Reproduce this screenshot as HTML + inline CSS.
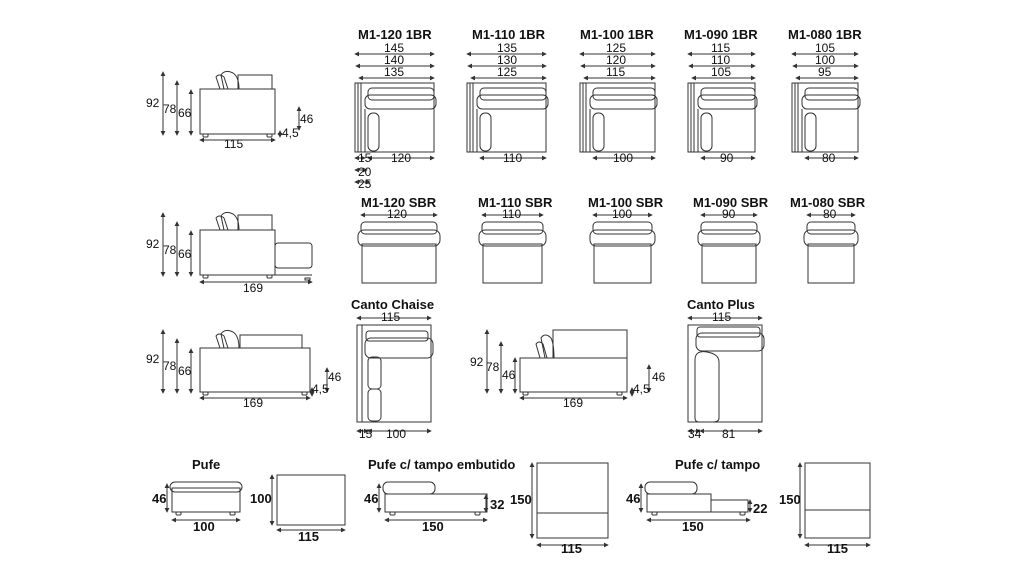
<!DOCTYPE html>
<html><head><meta charset="utf-8"><style>
html,body{margin:0;padding:0;background:#fff;width:1024px;height:576px;overflow:hidden}
svg{display:block}
text{font-family:"Liberation Sans",sans-serif;fill:#111}
.t{font-weight:bold;font-size:13px}
.d{font-size:12px}
.b{font-weight:bold;font-size:13px}
</style></head><body>
<svg id="s" width="1024" height="576" viewBox="0 0 1024 576" fill="none" stroke="#333" stroke-width="1">
<defs><marker id="a" viewBox="0 0 6 6" refX="5" refY="3" markerWidth="5" markerHeight="5" orient="auto-start-reverse"><path d="M0,0L6,3L0,6z" fill="#333" stroke="none"/></marker></defs>
<g id="g"></g>
<g stroke="none">
<!-- row1 side -->
<text class="d" x="146" y="107">92</text><text class="d" x="163" y="113">78</text><text class="d" x="178" y="117">66</text>
<text class="d" x="224" y="148">115</text><text class="d" x="300" y="123">46</text><text class="d" x="282" y="137">4,5</text>
<!-- 1BR titles -->
<text class="t" x="358" y="39">M1-120 1BR</text><text class="t" x="472" y="39">M1-110 1BR</text><text class="t" x="580" y="39">M1-100 1BR</text><text class="t" x="684" y="39">M1-090 1BR</text><text class="t" x="788" y="39">M1-080 1BR</text>
<text class="d" x="384" y="52">145</text><text class="d" x="384" y="64">140</text><text class="d" x="384" y="76">135</text>
<text class="d" x="497" y="52">135</text><text class="d" x="497" y="64">130</text><text class="d" x="497" y="76">125</text>
<text class="d" x="606" y="52">125</text><text class="d" x="606" y="64">120</text><text class="d" x="606" y="76">115</text>
<text class="d" x="711" y="52">115</text><text class="d" x="711" y="64">110</text><text class="d" x="711" y="76">105</text>
<text class="d" x="815" y="52">105</text><text class="d" x="815" y="64">100</text><text class="d" x="818" y="76">95</text>
<text class="d" x="358" y="162">15</text><text class="d" x="391" y="162">120</text><text class="d" x="358" y="176">20</text><text class="d" x="358" y="188">25</text>
<text class="d" x="503" y="162">110</text><text class="d" x="613" y="162">100</text><text class="d" x="720" y="162">90</text><text class="d" x="822" y="162">80</text>
<!-- row2 -->
<text class="d" x="146" y="248">92</text><text class="d" x="163" y="254">78</text><text class="d" x="178" y="258">66</text><text class="d" x="243" y="292">169</text>
<text class="t" x="361" y="207">M1-120 SBR</text><text class="t" x="478" y="207">M1-110 SBR</text><text class="t" x="588" y="207">M1-100 SBR</text><text class="t" x="693" y="207">M1-090 SBR</text><text class="t" x="790" y="207">M1-080 SBR</text>
<text class="d" x="387" y="218">120</text><text class="d" x="502" y="218">110</text><text class="d" x="612" y="218">100</text><text class="d" x="722" y="218">90</text><text class="d" x="823" y="218">80</text>
<!-- row3 -->
<text class="d" x="146" y="363">92</text><text class="d" x="163" y="370">78</text><text class="d" x="178" y="375">66</text><text class="d" x="243" y="407">169</text>
<text class="d" x="328" y="381">46</text><text class="d" x="312" y="393">4,5</text>
<text class="t" x="351" y="309">Canto Chaise</text><text class="d" x="381" y="321">115</text><text class="d" x="359" y="438">15</text><text class="d" x="386" y="438">100</text>
<text class="d" x="470" y="366">92</text><text class="d" x="486" y="371">78</text><text class="d" x="502" y="379">46</text><text class="d" x="563" y="407">169</text>
<text class="d" x="652" y="381">46</text><text class="d" x="633" y="393">4,5</text>
<text class="t" x="687" y="309">Canto Plus</text><text class="d" x="712" y="321">115</text><text class="d" x="688" y="438">34</text><text class="d" x="722" y="438">81</text>
<!-- row4 -->
<text class="t" x="192" y="469">Pufe</text><text class="b" x="152" y="503">46</text><text class="b" x="193" y="531">100</text>
<text class="b" x="250" y="503">100</text><text class="b" x="298" y="541">115</text>
<text class="t" x="368" y="469">Pufe c/ tampo embutido</text><text class="b" x="364" y="503">46</text><text class="b" x="422" y="531">150</text><text class="b" x="490" y="509">32</text>
<text class="b" x="510" y="504">150</text><text class="b" x="561" y="553">115</text>
<text class="t" x="675" y="469">Pufe c/ tampo</text><text class="b" x="626" y="503">46</text><text class="b" x="682" y="531">150</text><text class="b" x="753" y="513">22</text>
<text class="b" x="779" y="504">150</text><text class="b" x="827" y="553">115</text>
</g>
</svg>
<script>
const g=document.getElementById('g');let h='';
const L=(x1,y1,x2,y2,ar)=>{h+=`<line x1="${x1}" y1="${y1}" x2="${x2}" y2="${y2}"${ar?' marker-start="url(#a)" marker-end="url(#a)"':''}/>`};
const R=(x,y,w,hh,r)=>{h+=`<rect x="${x}" y="${y}" width="${w}" height="${hh}" rx="${r||0}"/>`};
function side(x0,y0,w,bodyTop,hasCh){ // y0 = floor
  R(x0,bodyTop,w,y0-bodyTop);
  R(x0+3,y0,5,3,1);R(x0+w-8,y0,5,3,1);
  h+=`<path d="M${x0+20},${bodyTop} l-4,-12 q3,-4 8,0 l4,12 M${x0+24},${bodyTop} l-3,-14 q4,-6 12,-2 q6,4 6,16"/>`;
}
function vdims(x,top92,top78,top66,bot){L(x,top92,x,bot,1);L(x+14,top78,x+14,bot,1);L(x+28,top66,x+28,bot,1);}
// row1 side
side(200,134,75,89);R(238,75,34,14);vdims(163,72,81,90,135);L(200,140,275,140,1);L(299,107,299,130,1);L(280,131,280,137,1);
// 1BR
[[355,79],[467,79],[580,75],[688,67],[792,66]].forEach(([x,w])=>{
  const y=83;R(x,y,w,69);L(x+3,y,x+3,y+69);L(x+6,y,x+6,y+69);R(x+13,y+5,w-13,12,4);R(x+10,y+12,w-8,14,5);
  R(x+13,y+30,11,38,5);L(x+10,y+26,x+10,y+69);
  L(x,54,x+w,54,1);L(x+1,66,x+w,66,1);L(x+4,78,x+w,78,1);L(x+13,158,x+w,158,1);
});
L(355,158,365,158,1);L(355,170,367,170,1);L(355,182,370,182,1);
// SBR
[[358,82],[479,67],[590,65],[698,62],[804,54]].forEach(([x,w])=>{
  const y=222;R(x+3,y,w-6,12,4);R(x,y+8,w,16,6);R(x+4,y+22,w-8,39);L(x+3,215,x+w-3,215,1);
});
// row2 side
side(200,275,75,230);R(238,215,34,15);R(275,243,37,25,3);L(275,275,312,275);L(275,268,275,275);
vdims(163,213,222,231,276);L(200,282,312,282,1);R(305,278,5,2);
// row3 side left
side(200,392,110,348);R(240,335,62,13);vdims(163,330,339,349,393);L(200,398,310,398,1);L(327,368,327,392,1);L(312,388,312,396,1);
// canto chaise
R(357,325,74,97);L(362,325,362,422);R(366,331,62,10,3);R(365,338,68,20,6);R(368,357,13,32,4);R(368,389,13,32,4);L(357,318,431,318,1);L(357,431,368,431,1);L(368,431,431,431,1);
// second side
R(520,358,107,34);R(523,392,5,3,1);R(617,392,5,3,1);h+='<path d="M540,358 l-4,-14 q3,-4 7,0 l4,14 M545,358 l-4,-20 q4,-6 10,0 q3,6 3,20"/>';R(553,330,74,28);
L(487,330,487,393,1);L(501,342,501,393,1);L(515,358,515,393,1);L(520,398,627,398,1);L(649,365,649,392,1);L(632,388,632,396,1);
// canto plus
R(688,325,74,97);R(697,327,63,10,3);R(696,333,68,18,6);h+='<path d="M695,360 q0,-10 12,-8 q12,2 12,10 l0,56 q0,4 -6,4 l-14,0 q-4,0 -4,-4z"/>';L(688,318,762,318,1);L(688,431,700,431,1);L(700,431,762,431,1);
// row4
R(172,488,68,24);R(170,482,72,10,5);R(176,512,5,3,1);R(230,512,5,3,1);L(167,484,167,512,1);L(172,520,240,520,1);
R(277,475,68,50);L(272,475,272,525,1);L(277,530,345,530,1);
R(385,494,102,18);R(383,482,52,12,5);R(390,512,5,3,1);R(475,512,5,3,1);L(379,484,379,512,1);L(486,495,486,512,1);L(385,520,487,520,1);
R(537,463,71,75);L(537,513,608,513);L(532,463,532,538,1);L(537,545,608,545,1);
R(647,494,64,18);R(645,482,52,12,5);R(711,500,37,12);R(652,512,5,3,1);R(740,512,5,3,1);L(641,484,641,512,1);L(750,500,750,512,1);L(647,520,750,520,1);
R(805,463,65,75);L(805,510,870,510);L(800,463,800,538,1);L(805,545,870,545,1);
g.innerHTML=h;
</script>
</body></html>
